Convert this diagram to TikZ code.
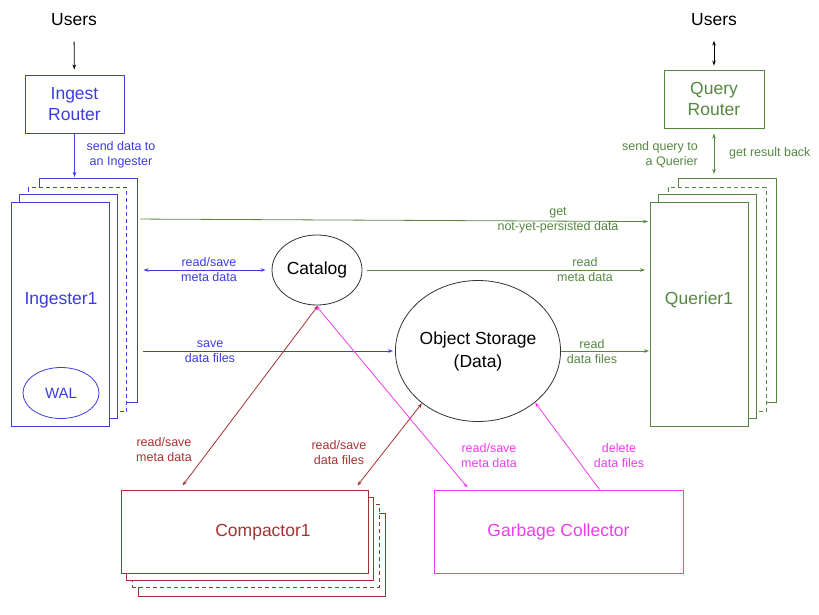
\documentclass[tikz,border=0pt]{standalone}
\usepackage{fontspec}
\setmainfont{Liberation Sans}
\usetikzlibrary{arrows.meta,shapes.geometric,calc}
\definecolor{ingblue}{RGB}{60,60,225}
\definecolor{qrygreen}{RGB}{85,135,65}
\definecolor{cmpred}{RGB}{165,50,50}
\definecolor{gcpink}{RGB}{240,60,240}
\begin{document}
\begin{tikzpicture}[x=1pt,y=-1pt,
    >={Stealth[length=5pt,width=3.5pt]},
    big/.style={font=\fontsize{17.5}{21}\selectfont},
    lbl/.style={font=\fontsize{12.5}{15}\selectfont,align=center,inner sep=0pt},
    stk/.style={draw,fill=white,minimum width=98pt,minimum height=224pt,inner sep=0pt,line width=0.9pt},
    cstk/.style={draw,fill=white,minimum width=247pt,minimum height=83pt,inner sep=0pt,line width=0.9pt},
    rbox/.style={draw,minimum width=99pt,minimum height=58pt,inner sep=0pt,align=center,line width=0.9pt,big},
    oval/.style={draw=black!80,ellipse,inner sep=0pt,line width=0.8pt,align=center,big},
    wire/.style={line width=0.8pt},
    dsh/.style={dash pattern=on 4pt off 3pt}]
  \useasboundingbox (0,0) rectangle (819,615);

  \node[big] (usrL) at (74,20) {Users};
  \node[big] (usrR) at (714,20) {Users};
  \node[rbox,draw=ingblue,text=ingblue] (ingr) at (74.5,104) {Ingest\\Router};
  \node[rbox,draw=qrygreen,text=qrygreen,minimum width=100pt] (qr) at (714,99) {Query\\Router};

  \node[stk,draw=ingblue] (ing4) at (88,290.5) {};
  \node[stk,draw=ingblue,dsh] (ing3) at (77.75,299.5) {};
  \node[stk,draw=ingblue] (ing2) at (68,306) {};
  \node[stk,draw=ingblue] (ing1) at (60.5,314) {};
  \node[big,text=ingblue] (ingtxt) at (61,300) {Ingester1};
  \node[draw=ingblue,text=ingblue,ellipse,minimum width=76pt,minimum height=51pt,inner sep=0pt,line width=0.8pt,
        font=\fontsize{15}{18}\selectfont] (wal) at (61,393) {WAL};

  \node[stk,draw=qrygreen] (qry4) at (727,290.5) {};
  \node[stk,draw=qrygreen,dsh] (qry3) at (717,299.5) {};
  \node[stk,draw=qrygreen] (qry2) at (707.5,306) {};
  \node[stk,draw=qrygreen] (qry1) at (699.5,314) {};
  \node[big,text=qrygreen] (qrytxt) at (699,300) {Querier1};

  \node[oval,minimum width=90pt,minimum height=70pt] (cat) at (317,270) {Catalog};
  \node[oval,minimum width=158pt,minimum height=141pt,font=\fontsize{17.5}{23}\selectfont] (obj) at (478,351) {Object Storage\\(Data)};

  \node[cstk,draw=cmpred] (cmp4) at (261.5,555) {};
  \node[cstk,draw=cmpred,dsh] (cmp3) at (255.5,545.5) {};
  \node[cstk,draw=cmpred] (cmp2) at (249.5,538.5) {};
  \node[cstk,draw=cmpred] (cmp1) at (244.5,531.5) {};
  \node[big,text=cmpred] (cmptxt) at (263,532) {Compactor1};
  \node[cstk,draw=gcpink,text=gcpink,minimum width=249pt,big] (gc) at (558.5,531.5) {Garbage Collector};

  \draw[wire,->,shorten <=12pt,shorten >=5pt] (usrL) -- (ingr);
  \draw[wire,<->,shorten <=11pt,shorten >=4pt] (usrR) -- (qr);
  \draw[wire,ingblue,->,shorten >=1pt] (ingr.south) -- (ingr.south |- ing4.north);
  \draw[wire,qrygreen,<->,shorten <=5pt,shorten >=4pt] (qr.south) -- (qr.south |- qry4.north);
  \node[lbl,ingblue] at (121,155) {send data to\\an Ingester};
  \node[lbl,qrygreen,anchor=east,align=right] at (698,155) {send query to\\a Querier};
  \node[lbl,qrygreen,anchor=west] at (729,153) {get result back};

  \draw[wire,qrygreen,->] ($(ing4.north east)+(3,41)$) -- ($(qry1.north west)+(-2,20)$);
  \node[lbl,qrygreen] at (558,220) {get\\not-yet-persisted data};
  \draw[wire,ingblue,<->,shorten <=6pt,shorten >=6pt] (ing4.east |- cat) -- (cat.west);
  \node[lbl,ingblue] at (209,270) {read/save\\meta data};
  \draw[wire,qrygreen,->,shorten <=5pt,shorten >=5pt] (cat.east) -- (cat -| qry1.west);
  \node[lbl,qrygreen] at (585,270) {read\\meta data};
  \draw[wire,ingblue,->,shorten <=6pt,shorten >=2pt] (ing4.east |- obj) -- (obj.west);
  \node[lbl,ingblue] at (210,352) {save\\data files};
  \draw[wire,qrygreen,->,shorten >=1pt] (obj.east) -- (obj -| qry1.west);
  \node[lbl,qrygreen] at (592,352) {read\\data files};

  \draw[wire,cmpred,<->] ($(cmp1.north west)+(62,-4)$) -- (cat.272);
  \node[lbl,cmpred] at (164,450) {read/save\\meta data};
  \draw[wire,cmpred,<->] ($(cmp1.north east)+(-11,-4)$) -- (obj.223);
  \node[lbl,cmpred] at (339,453) {read/save\\data files};
  \draw[wire,gcpink,<->] (cat.268) -- ($(gc.north west)+(34,-2)$);
  \node[lbl,gcpink] at (489,455.5) {read/save\\meta data};
  \draw[wire,gcpink,->] ($(gc.north west)+(166,0)$) -- (obj.318);
  \node[lbl,gcpink] at (619,455.5) {delete\\data files};
\end{tikzpicture}
\end{document}
